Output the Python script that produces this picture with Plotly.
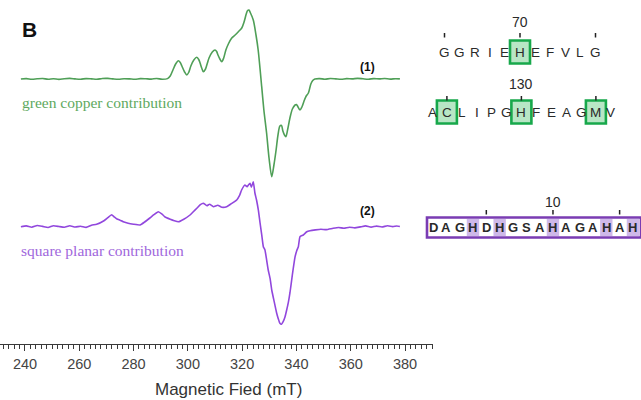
import plotly.graph_objects as go

W, H = 641, 400

# ---- EPR spectra (magnetic field in mT, derivative signal in a.u.) ----
green_field = [238.5, 240.5, 242.5, 244.5, 246.5, 248.5, 250.5, 252.5, 254.5, 256.5,
               258.5, 260.5, 262.5, 264.5, 266.5, 268.5, 270.5, 272.5, 274.5, 276.5,
               278.5, 280.5, 282.5, 284.5, 286.5, 288.5, 290.5, 292.5,
               293.5, 294.5, 295.5, 296.5, 297.2, 297.8, 298.8, 299.6, 300.3, 301.1,
               302.2, 303.3, 304.0, 304.5, 305.1, 305.7, 306.5, 307.2, 307.8, 309.0,
               310.0, 310.6, 311.1, 311.8, 312.5, 313.2, 314.0, 315.0, 316.1, 317.4,
               318.6, 319.8, 320.7, 321.5, 322.0, 322.5, 322.9, 324.1, 325.1, 325.9,
               327.2, 328.0, 329.0, 329.9, 330.9, 331.7, 332.5, 333.2, 333.9, 334.5,
               335.0, 335.6, 336.1, 336.8, 337.6, 338.5, 339.5, 340.0, 340.4, 341.3,
               342.0, 342.8, 343.6, 344.4, 345.3, 346.0, 346.8,
               348.5, 350.5, 352.5, 354.5, 356.5, 358.5, 360.5, 362.5, 364.5,
               366.5, 368.5, 370.5, 372.5, 374.5, 376.5, 378.1]
green_signal = [0.0, 0.4, -0.3, 0.2, 0.5, -0.2, 0.3, -0.4, 0.3, 0.6,
                0.1, -0.2, 0.4, 0.1, -0.3, 0.5, 0.6, 0.1, -0.2, 0.3,
                0.1, -0.3, 0.4, 0.2, -0.1, 0.5, -0.2, 0.4,
                3.0, 9.0, 15.0, 18.3, 16.5, 13.0, 7.0, 4.0, 6.5, 13.0,
                19.0, 21.7, 19.5, 16.0, 11.0, 7.3, 10.0, 16.0, 21.0, 27.0,
                29.0, 27.5, 24.0, 20.0, 17.3, 21.0, 29.0, 35.5, 40.7, 44.0,
                47.3, 50.7, 57.0, 65.0, 68.5, 69.0, 67.0, 59.0, 44.0, 29.0,
                -7.7, -31.0, -54.0, -79.0, -97.7, -86.0, -71.0, -56.0, -47.0, -46.5,
                -52.0, -56.0, -57.7, -50.0, -39.0, -30.0, -26.0, -25.5, -27.0, -31.0,
                -28.0, -22.0, -17.0, -14.0, -5.0, -1.5, 0.0,
                0.4, -0.2, 0.5, 0.1, -0.3, 0.4, 0.1, 0.6, 0.2,
                -0.2, 0.4, 0.1, 0.5, -0.1, 0.3, 0.1]

purple_field = [238.5, 240.5, 242.5, 244.5, 246.5, 248.5, 250.5, 252.5, 254.5, 256.5,
                258.5, 260.5, 262.5, 264.5, 266.4, 269.1, 270.5, 271.9, 273.0, 273.9,
                275.0, 276.2, 278.0, 280.0, 282.4, 284.0, 286.0, 287.5, 289.1, 290.5,
                291.6, 293.5, 295.0, 296.5, 298.5, 300.8, 302.0, 303.4, 304.6, 305.7,
                307.0, 308.0, 309.4, 311.0, 312.5, 314.3, 316.0, 318.0, 319.0, 319.8,
                321.0, 321.8, 322.3, 322.9, 323.4, 324.1, 324.7, 325.3, 326.0, 326.6,
                327.2, 327.8, 328.4, 329.0, 329.6, 330.3, 330.9, 331.8, 332.7, 333.3,
                333.9, 334.5, 335.1, 335.8, 336.4, 337.0, 337.6, 338.5, 339.5, 340.1,
                340.7, 341.3, 342.5, 343.8, 345.0, 347.0, 349.0, 351.0, 353.5, 355.5,
                357.5, 359.5, 361.5, 363.5, 365.5, 367.5, 369.5, 371.5, 373.5, 375.5,
                377.0, 378.1]
purple_signal = [0.0, 0.8, -0.5, 1.2, 0.3, -0.8, 1.0, 0.2, -0.6, 0.9,
                 -0.3, 0.5, -0.7, 1.5, 2.5, 6.0, 9.0, 12.0, 9.5, 7.7,
                 6.5, 5.0, 3.5, 2.5, 1.7, 4.5, 8.7, 12.0, 15.0, 12.5,
                 9.7, 7.5, 6.0, 5.0, 7.5, 11.7, 15.0, 18.7, 22.0, 23.4,
                 21.0, 22.5, 20.0, 21.5, 19.5, 20.0, 23.0, 26.7, 31.0, 36.7,
                 41.7, 40.0, 41.7, 43.4, 39.5, 45.0, 33.7, 26.7, 16.0, 3.7,
                 -8.0, -20.0, -23.3, -33.0, -43.3, -52.0, -63.3, -75.0, -86.3, -92.0,
                 -96.6, -97.5, -95.0, -90.0, -83.3, -76.0, -66.3, -48.0, -30.0, -24.0,
                 -20.0, -10.0, -8.3, -5.0, -4.0, -3.2, -2.6, -2.9, -1.6, -0.8,
                 -1.5, -0.5, -1.2, -0.2, 0.8, -0.4, 0.6, -0.3, 0.9, 0.1,
                 0.7, 0.2]

GREEN_OFFSET = 265.0
PURPLE_OFFSET = 117.3

# ---- sequence panels ----
seq_green_1 = "GGRIEHEFVLG"
seq_green_1_start = 65
seq_green_1_ligands = [70]
seq_green_1_ticks = [65, 70, 75]
seq_green_1_label = 70

seq_green_2 = "ACLIPGHFEAGMV"
seq_green_2_start = 124
seq_green_2_ligands = [125, 130, 135]
seq_green_2_ticks = [125, 130, 135]
seq_green_2_label = 130

seq_purple = "DAGHDHGSAHAGAHAH"
seq_purple_start = 1
seq_purple_ligands = [4, 6, 10, 14, 16]
seq_purple_ticks = [5, 10, 15]
seq_purple_label = 10

GREEN_LINE = "#4f9f57"
PURPLE_LINE = "#9147dd"
SANS = "Liberation Sans, Arial, sans-serif"
SERIF = "Liberation Serif, Times New Roman, serif"

fig = go.Figure()
fig.add_trace(go.Scatter(
    x=green_field, y=[GREEN_OFFSET + v for v in green_signal], mode="lines",
    line=dict(color=GREEN_LINE, width=1.6, shape="spline", smoothing=0.8),
    hoverinfo="skip"))
fig.add_trace(go.Scatter(
    x=purple_field, y=[PURPLE_OFFSET + v for v in purple_signal], mode="lines",
    line=dict(color=PURPLE_LINE, width=1.6, shape="spline", smoothing=0.4),
    hoverinfo="skip"))


def px(x):
    return x / W


def py(y):
    return 1 - y / H


def text(t, x, y, size, color="#333333", family=SANS, bold=False, xanchor="center"):
    if bold:
        t = "<b>" + t + "</b>"
    fig.add_annotation(text=t, x=px(x), y=py(y), xref="paper", yref="paper",
                       showarrow=False, xanchor=xanchor, yanchor="middle",
                       font=dict(family=family, size=size, color=color))


def rect(x0, y0, x1, y1, line_color, line_width, fill):
    fig.add_shape(type="rect", xref="paper", yref="paper",
                  x0=px(x0), x1=px(x1), y0=py(y0), y1=py(y1),
                  line=dict(color=line_color, width=line_width), fillcolor=fill)


def tick(x, y0, y1):
    fig.add_shape(type="line", xref="paper", yref="paper",
                  x0=px(x), x1=px(x), y0=py(y0), y1=py(y1),
                  line=dict(color="#222222", width=1.5))


def sequence(seq, start, ligands, ticks, label, x0, step, yc, label_y, tick_y,
             box_style):
    pos = lambda r: x0 + (r - start) * step
    for r in ligands:
        if box_style == "green":
            rect(pos(r) - 10, yc - 11.5, pos(r) + 10, yc + 11.5,
                 "#17a84b", 2.6, "rgba(125,210,150,0.55)")
        else:
            rect(pos(r) - 6.2, yc - 8.5, pos(r) + 6.2, yc + 8.5,
                 "rgba(0,0,0,0)", 0, "rgba(190,160,225,0.75)")
    for i, ch in enumerate(seq):
        text(ch, pos(start + i), yc, 13.5 if box_style == "green" else 13,
             color="#2a2a2a", bold=(box_style != "green"))
    for r in ticks:
        tick(pos(r), tick_y, tick_y + 4.5)
    text(str(label), pos(label), label_y, 14, color="#2a2a2a")


sequence(seq_green_1, seq_green_1_start, seq_green_1_ligands, seq_green_1_ticks,
         seq_green_1_label, 444.5, 15.1, 52, 22, 33, "green")
sequence(seq_green_2, seq_green_2_start, seq_green_2_ligands, seq_green_2_ticks,
         seq_green_2_label, 432.0, 14.9, 112, 84, 96, "green")
# purple peptide frame
rect(427, 217.5, 641, 237.5, "#7a3cb3", 2.6, "rgba(0,0,0,0)")
sequence(seq_purple, seq_purple_start, seq_purple_ligands, seq_purple_ticks,
         seq_purple_label, 433.0, 13.33, 227.5, 201.5, 210, "purple")

# labels on the spectra panel
text("B", 29, 29, 21, color="#111111", bold=True)
text("(1)", 367, 67, 12, color="#111111", bold=True)
text("(2)", 367, 211, 12, color="#111111", bold=True)
text("green copper contribution", 20, 102, 15.5, color="#5ea960", family=SERIF,
     xanchor="left")
text("square planar contribution", 19, 251, 15.5, color="#a067dc", family=SERIF,
     xanchor="left")
text("Magnetic Fied (mT)", 228, 389, 17, color="#333333")

fig.update_layout(
    width=W, height=H,
    margin=dict(l=0, r=0, t=0, b=0),
    paper_bgcolor="white", plot_bgcolor="white",
    showlegend=False,
    xaxis=dict(
        domain=[0, 433 / W], range=[230.8, 390.3],
        showline=True, linecolor="#3a3a3a", linewidth=1.3,
        ticks="outside", ticklen=6, tickwidth=1.3, tickcolor="#3a3a3a",
        tick0=240, dtick=20,
        minor=dict(ticks="outside", ticklen=3.5, tickwidth=1, tick0=240, dtick=2,
                   tickcolor="#3a3a3a"),
        showgrid=False, zeroline=False,
        tickfont=dict(family=SANS, size=14.5, color="#444444"),
    ),
    yaxis=dict(domain=[56 / H, 1], range=[0, 344], visible=False),
)

fig.write_html("out.html")
